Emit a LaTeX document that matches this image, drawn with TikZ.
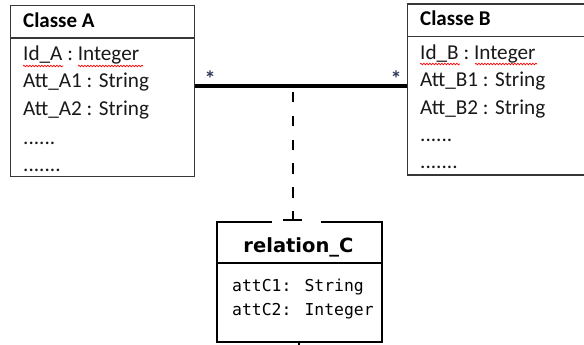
\documentclass[tikz,border=0pt]{standalone}
\usepackage{fontspec}
\setmainfont{Carlito}
\newfontfamily\djsans{DejaVu Sans}
\newfontfamily\djmono{DejaVu Sans Mono}
\usetikzlibrary{decorations.pathmorphing}
\definecolor{boxgray}{RGB}{55,55,55}
\definecolor{stargray}{RGB}{50,55,90}
\begin{document}
\begin{tikzpicture}[x=1pt,y=-1pt,
  classbox/.style={draw=boxgray, line width=1.4pt, inner sep=0pt},
  classline/.style={draw=boxgray, line width=1.4pt},
  ctitle/.style={anchor=base west, inner sep=0pt, font=\fontsize{21}{24}\selectfont\bfseries},
  ctext/.style={anchor=base west, inner sep=0pt, font=\fontsize{21.2}{24}\selectfont, text=black!90},
  assoc/.style={line width=3.6pt, black},
  rel/.style={line width=2pt, black},
  reldash/.style={line width=2.5pt, black, dash pattern=on 10.5pt off 13.25pt, dash phase=17.75pt},
  startxt/.style={anchor=base, inner sep=0pt, font=\fontsize{22}{22}\selectfont\bfseries, text=stargray},
  wavy/.style={red, line width=0.7pt, decorate, decoration={snake, segment length=3pt, amplitude=0.8pt}},
  rtitle/.style={anchor=base, inner sep=0pt, font=\fontsize{19.5}{22}\selectfont\djsans\bfseries},
  rtext/.style={anchor=base west, inner sep=0pt, font=\fontsize{16.4}{20}\selectfont\djmono},
]
\useasboundingbox[fill=white] (0,0) rectangle (584,345);

% Classe A
\node[classbox, minimum width=184pt, minimum height=171pt, anchor=north west] (A) at (10,5) {};
\draw[classline] ([yshift=-33pt]A.north west) -- ([yshift=-33pt]A.north east);
\node[ctitle] (at) at (23,28) {Classe A};
\node[ctext] (a1) at (23,61) {Id\_A : Integer};
\node[ctext] (a2) at (23,88) {Att\_A1 : String};
\node[ctext] (a3) at (23,115) {Att\_A2 : String};
\node[ctext] (a4) at (23,144) {......};
\node[ctext] (a5) at (23,171) {.......};
\draw[wavy] (23,66) -- (63,66);
\draw[wavy] (78,66) -- (143,66);

% Classe B
\node[classbox, minimum width=200pt, minimum height=171pt, anchor=north west] (B) at (407,3.3) {};
\draw[classline] ([yshift=-33.4pt]B.north west) -- ([yshift=-33.4pt]B.north east);
\node[ctitle] (bt) at (420,26) {Classe B};
\node[ctext] (b1) at (420,60) {Id\_B : Integer};
\node[ctext] (b2) at (420,87) {Att\_B1 : String};
\node[ctext] (b3) at (420,114) {Att\_B2 : String};
\node[ctext] (b4) at (420,141) {......};
\node[ctext] (b5) at (420,168) {.......};
\draw[wavy] (420,64) -- (460,64);
\draw[wavy] (475,64) -- (537,64);

% association
\coordinate (lvl) at (0,86);
\draw[assoc] (A.east |- lvl) -- (B.west |- lvl);
\node[startxt] (sa) at (210,86) {*};
\node[startxt] (sb) at (396,86) {*};

% relation_C
\node[inner sep=0pt, minimum width=165pt, minimum height=120pt, anchor=north west] (C) at (216.7,221.7) {};
\draw[rel] ([xshift=55.3pt]C.north west) -- (C.north west) -- (C.south west) -- (C.south east) -- (C.north east) -- ([xshift=-61pt]C.north east);
\draw[rel] ([yshift=-41.6pt]C.north west) -- ([yshift=-41.6pt]C.north east);
\node[rtitle] (ct) at (298.5,252) {relation\_C};
\node[rtext] (c1) at (232,291.5) {attC1: String};
\node[rtext] (c2) at (232,315) {attC2: Integer};
\coordinate (cb) at (299,345);
\draw[rel] (C.south west -| cb) -- (cb);

% dashed link
\coordinate (mid) at (293,86);
\coordinate (tk) at (293,220);
\draw[reldash] (mid) -- (tk);
\draw[rel] ([xshift=-10pt]tk) -- ([xshift=9pt]tk);
\end{tikzpicture}
\end{document}
